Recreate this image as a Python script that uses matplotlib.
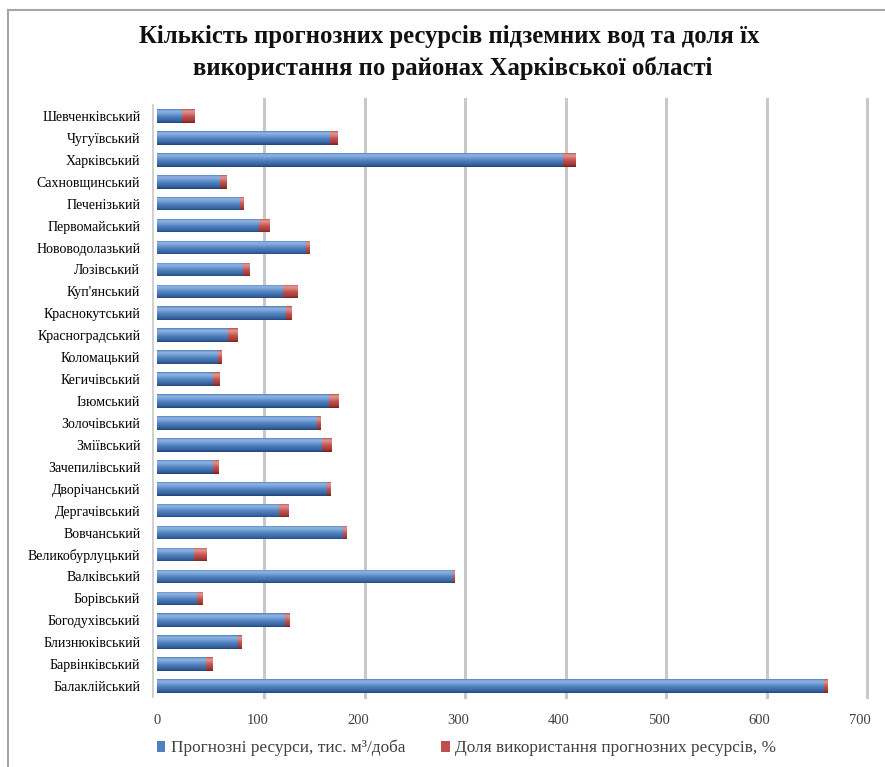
import numpy as np
import matplotlib
matplotlib.use("Agg")
import matplotlib.pyplot as plt
from matplotlib.path import Path
from matplotlib.patches import Patch
from matplotlib.transforms import ScaledTranslation
from matplotlib.colors import LinearSegmentedColormap
import matplotlib.patheffects as pe

plt.rcParams['font.family'] = ['Liberation Serif', 'DejaVu Serif']

districts = ["Балаклійський", "Барвінківський", "Близнюківський", "Богодухівський",
             "Борівський", "Валківський", "Великобурлуцький", "Вовчанський",
             "Дергачівський", "Дворічанський", "Зачепилівський", "Зміївський",
             "Золочівський", "Ізюмський", "Кегичівський", "Коломацький",
             "Красноградський", "Краснокутський", "Куп'янський", "Лозівський",
             "Нововодолазький", "Первомайський", "Печенізький", "Сахновщинський",
             "Харківський", "Чугуївський", "Шевченківський"]
resources = [664, 49, 81, 127, 40, 295, 37, 185, 121, 169.5, 56, 164, 159, 171.5,
             56, 61, 71, 128, 125, 86, 148, 102, 83, 63, 404, 172, 25]
usage_share = [3.7, 6.3, 4, 5, 6.3, 2, 12.7, 4.6, 10.7, 4, 5.7, 10, 4, 9.7,
               6.4, 3.4, 10, 6, 15.3, 6.4, 4.7, 10.4, 4, 6.7, 13, 8, 13]
series_names = ["Прогнозні ресурси, тис. м³/доба",
                "Доля використання прогнозних ресурсів, %"]
xticks = [0, 100, 200, 300, 400, 500, 600, 700]
title1 = "Кількість прогнозних ресурсів підземних вод та доля їх"
title2 = "використання по районах Харківської області"

W, H = 885, 767
fig = plt.figure(figsize=(W / 100, H / 100), dpi=100)
ax = fig.add_axes([157 / W, 1 - 697 / H, 703 / W, 592 / H])

ypos = np.arange(len(districts))
h = 0.62
blue_bars = ax.barh(ypos, resources, height=h, color='#4f81bd', zorder=2, lw=0)
red_bars = ax.barh(ypos, usage_share, left=resources, height=h, color='#c0504d',
                   zorder=2, lw=0)

XMAX = xticks[-1]
YMIN, YMAX = -0.5, len(districts) - 0.5
N = len(districts) * 80
yy = YMIN + (np.arange(N) + 0.5) / N * (YMAX - YMIN)
frac = yy - np.round(yy)
t = np.clip((frac + h / 2) / h, 0, 1)

blue_cmap = LinearSegmentedColormap.from_list('b', [
    (0.0, '#23467a'), (0.15, '#3663a0'), (0.45, '#4f81bd'),
    (0.72, '#7ca5da'), (0.86, '#8fb5e4'), (1.0, '#5a85bf')])
red_cmap = LinearSegmentedColormap.from_list('r', [
    (0.0, '#76201e'), (0.15, '#a13a37'), (0.45, '#c0504d'),
    (0.72, '#da837f'), (0.86, '#e39592'), (1.0, '#b95855')])


def shade(bars, cmap):
    paths = [p.get_path().transformed(p.get_patch_transform()) for p in bars]
    comp = Path.make_compound_path(*paths)
    img = cmap(t)[:, None, :]
    img = np.repeat(img, 2, axis=1)
    im = ax.imshow(img, extent=(0, XMAX * 1.2, YMIN, YMAX), origin='lower',
                   aspect='auto', interpolation='bilinear', zorder=3)
    im.set_clip_path(comp, ax.transData)


shade(blue_bars, blue_cmap)
shade(red_bars, red_cmap)

ax.set_xlim(0, XMAX)
ax.set_ylim(YMIN, YMAX)

# back-wall gridlines (shifted slightly to mimic 3D wall)
off = ScaledTranslation(7 / 100, 0, fig.dpi_scale_trans)
for v in xticks[1:]:
    ax.plot([v, v], [0.0, 1.01], color='#c8c8c8', lw=2.2, zorder=0,
            transform=ax.get_xaxis_transform() + off, clip_on=False)

ax.set_xticks(xticks)
ax.set_xticklabels([str(v) for v in xticks], fontsize=10.5, color='#404040')
ax.set_yticks(ypos)
ax.set_yticklabels(districts, fontsize=12.8, color='#3a3a3a')
for lab in ax.get_yticklabels():
    lab.set_path_effects([pe.withSimplePatchShadow(offset=(1, -1), shadow_rgbFace='#999999', alpha=0.5)])
ax.tick_params(axis='both', length=0)
ax.tick_params(axis='x', pad=12)
ax.tick_params(axis='y', pad=9)
for s in ['top', 'right', 'bottom']:
    ax.spines[s].set_visible(False)
ax.spines['left'].set_color('#c8c8c8')
ax.spines['left'].set_linewidth(1.2)
ax.spines['left'].set_position(('outward', 3))

fig.text(0.508, 1 - 37 / H, title1, ha='center', va='center', fontsize=17.8,
         fontweight='bold', color='#111111')
fig.text(0.511, 1 - 68 / H, title2, ha='center', va='center', fontsize=17.8,
         fontweight='bold', color='#111111')

handles = [Patch(facecolor='#4f81bd', edgecolor='none'),
           Patch(facecolor='#c0504d', edgecolor='none')]
fig.legend(handles, series_names, loc='center', bbox_to_anchor=(0.527, 1 - 748 / H),
           ncol=2, frameon=False, fontsize=12.4, handlelength=0.5, handleheight=0.6,
           handletextpad=0.3, columnspacing=2.1, labelcolor='#404040')

# outer chart border (left and top visible)
fig.add_artist(plt.Line2D([8 / W, 1.0], [1 - 10 / H, 1 - 10 / H], color='#a6a6a6',
                          lw=1.5, transform=fig.transFigure))
fig.add_artist(plt.Line2D([8 / W, 8 / W], [0.0, 1 - 10 / H], color='#a6a6a6',
                          lw=1.5, transform=fig.transFigure))

fig.savefig('out.png', dpi=100)
